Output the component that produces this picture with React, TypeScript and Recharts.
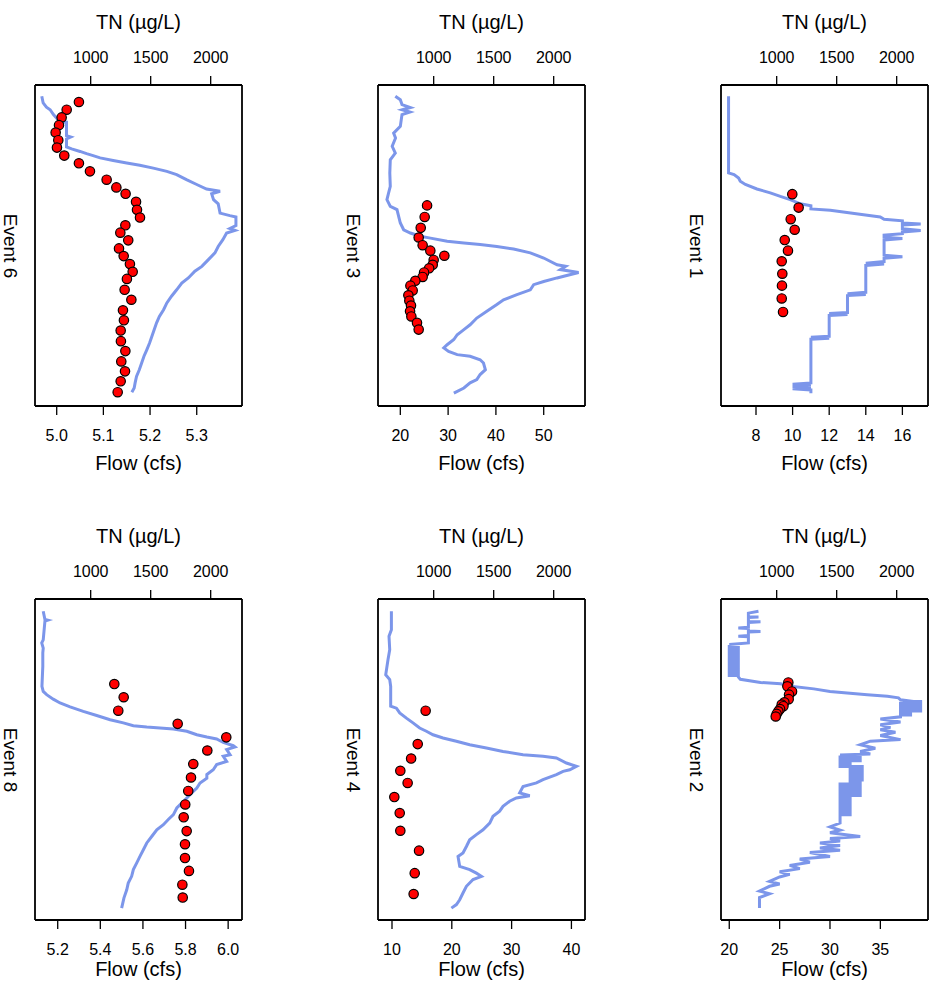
import { ScatterChart, Scatter, XAxis, YAxis } from 'recharts';

const FONT = '"Liberation Sans", Arial, Helvetica, sans-serif';
const LINE_COLOR = '#7C96EA';

// time axis is a relative position through each event (0 = start, 100 = end)
const TN_TICKS = [1000, 1500, 2000];
const TN_DOMAIN: [number, number] = [536, 2261];

// [flow cfs, time]
const event6Flow: [number, number][] = [
  [4.968, 3.5], [4.971, 5.6], [4.978, 6.9], [4.986, 7.7], [4.993, 9.2], [5.003, 10.8], [5.014, 11.6],
  [5.021, 11.6], [5.021, 15.8], [5.03, 16.2], [5.021, 16.8], [5.021, 19.3], [5.032, 19.9], [5.05, 20.7],
  [5.064, 21.4], [5.078, 22.0], [5.093, 22.7], [5.121, 23.5], [5.15, 24.3], [5.178, 25.0], [5.207, 25.9],
  [5.236, 26.9], [5.257, 27.9], [5.278, 29.5], [5.3, 31.0], [5.321, 32.4], [5.35, 33.1], [5.332, 33.9],
  [5.336, 35.7], [5.346, 37.0], [5.35, 39.9], [5.371, 40.7], [5.384, 41.1], [5.384, 43.8], [5.371, 44.7],
  [5.382, 45.3], [5.364, 46.1], [5.356, 48.2], [5.346, 50.3], [5.339, 52.3], [5.325, 54.4], [5.311, 56.5],
  [5.296, 58.0], [5.282, 60.1], [5.268, 61.7], [5.257, 63.8], [5.246, 65.8], [5.236, 67.9], [5.229, 70.0],
  [5.22, 72.1], [5.214, 74.1], [5.209, 76.2], [5.204, 78.3], [5.199, 80.4], [5.193, 82.5], [5.187, 84.5],
  [5.182, 86.6], [5.177, 88.7], [5.171, 90.8], [5.168, 92.8], [5.166, 94.4], [5.161, 95.7],
];
// [TN ug/L, time]
const event6TN: [number, number][] = [
  [902, 5.3], [800, 7.7], [758, 10.1], [736, 12.5], [708, 14.8], [730, 17.2], [719, 19.5], [780, 22.0],
  [902, 24.4], [994, 26.9], [1133, 29.5], [1214, 31.9], [1291, 33.9], [1378, 36.4], [1386, 38.9],
  [1411, 41.3], [1289, 43.7], [1247, 46.0], [1313, 48.4], [1236, 50.9], [1275, 53.3], [1327, 55.8],
  [1350, 58.2], [1302, 60.4], [1283, 63.8], [1339, 66.9], [1269, 70.2], [1277, 73.3], [1250, 76.5],
  [1252, 79.8], [1289, 82.9], [1255, 86.1], [1286, 89.2], [1250, 92.3], [1225, 95.7],
];

const event3Flow: [number, number][] = [
  [18.95, 3.5], [20.0, 4.6], [20.35, 6.1], [22.1, 7.0], [20.4, 7.7], [22.0, 8.4], [20.35, 9.2],
  [20.0, 12.9], [18.6, 15.0], [19.0, 16.5], [18.3, 19.1], [18.95, 21.2], [17.9, 23.3], [17.8, 27.4],
  [17.9, 31.6], [17.55, 33.6], [17.2, 35.7], [17.9, 37.8], [19.3, 38.8], [19.65, 40.9], [20.0, 43.0],
  [20.7, 45.1], [22.1, 46.1], [24.2, 47.1], [26.3, 47.7], [29.8, 48.7], [33.3, 49.2], [36.7, 49.7],
  [40.2, 50.3], [43.7, 51.1], [47.2, 52.3], [50.0, 53.9], [52.8, 56.0], [54.6, 56.5], [53.5, 57.5],
  [57.3, 58.4], [54.2, 59.6], [52.8, 60.1], [50.0, 61.2], [47.9, 62.2], [47.2, 63.8], [44.4, 65.3],
  [41.6, 66.9], [40.2, 68.4], [38.1, 70.5], [36.0, 72.6], [34.6, 74.7], [33.3, 76.2], [31.9, 77.8],
  [31.2, 79.3], [29.8, 80.9], [29.1, 81.9], [30.1, 83.0], [31.9, 84.0], [34.6, 84.5], [36.7, 85.6],
  [37.4, 86.6], [37.8, 88.7], [36.7, 90.2], [36.0, 91.8], [34.6, 92.8], [33.3, 94.4], [31.2, 96.0],
];
const event3TN: [number, number][] = [
  [945, 37.5], [925, 41.1], [892, 44.5], [875, 47.5], [908, 49.9], [972, 51.6], [1089, 53.2], [1000, 54.5],
  [992, 56.0], [962, 57.1], [920, 58.4], [908, 59.8], [847, 61.0], [806, 62.5], [825, 64.0], [789, 65.5],
  [797, 67.2], [811, 68.7], [803, 70.5], [814, 72.1], [861, 74.1], [875, 76.2],
];

const event1Flow: [number, number][] = [
  [6.5, 3.5], [6.5, 27.4], [6.8, 27.9], [7.05, 29.0], [7.14, 30.0], [7.42, 31.0], [8.05, 32.4],
  [8.78, 33.6], [9.33, 34.7], [9.87, 35.7], [10.42, 37.0], [11.0, 37.6], [11.0, 38.6], [12.06, 39.0],
  [12.97, 39.7], [13.88, 40.4], [14.79, 41.1], [15.0, 41.8], [16.0, 42.3], [16.0, 43.0], [17.0, 43.3],
  [16.0, 43.6], [16.0, 44.8], [17.0, 45.3], [16.0, 45.8], [16.0, 46.3], [15.0, 46.8], [15.0, 47.4],
  [16.0, 47.8], [15.0, 48.3], [15.0, 53.0], [16.0, 53.5], [15.0, 54.0], [15.0, 55.0], [14.0, 55.5],
  [15.0, 55.8], [14.0, 56.2], [14.0, 64.6], [13.0, 65.0], [14.0, 65.3], [13.0, 65.6], [13.0, 70.9],
  [12.0, 71.2], [13.0, 71.5], [12.0, 71.8], [12.0, 78.3], [11.0, 78.6], [12.0, 78.9], [11.0, 79.2],
  [11.0, 92.8], [10.0, 93.2], [11.0, 93.5], [10.0, 93.9], [11.0, 94.3], [10.0, 94.6], [11.0, 95.0],
  [11.0, 96.0],
];
const event1TN: [number, number][] = [
  [1130, 34.0], [1183, 38.2], [1117, 41.8], [1150, 45.1], [1067, 48.3], [1094, 51.6], [1042, 54.9],
  [1047, 58.8], [1044, 62.5], [1042, 66.5], [1053, 70.7],
];

const event8Flow: [number, number][] = [
  [5.132, 3.8], [5.14, 6.4], [5.153, 6.6], [5.14, 6.9], [5.132, 12.7], [5.125, 13.7], [5.132, 15.3],
  [5.13, 16.8], [5.13, 21.0], [5.126, 27.2], [5.132, 28.8], [5.148, 29.8], [5.179, 31.2], [5.211, 32.4],
  [5.258, 33.6], [5.32, 35.0], [5.383, 36.3], [5.446, 37.6], [5.508, 38.6], [5.555, 39.5], [5.618, 39.9],
  [5.68, 40.2], [5.743, 40.5], [5.806, 41.2], [5.853, 42.3], [5.9, 43.0], [5.946, 43.6], [5.977, 44.7],
  [6.024, 45.7], [6.032, 46.1], [5.993, 46.9], [6.009, 48.5], [5.977, 49.0], [5.993, 50.6], [5.946, 51.6],
  [5.93, 53.2], [5.9, 54.7], [5.9, 55.8], [5.868, 57.3], [5.853, 58.9], [5.829, 60.4], [5.806, 62.0],
  [5.782, 63.6], [5.759, 65.1], [5.743, 67.2], [5.719, 68.7], [5.696, 70.3], [5.665, 71.9], [5.642, 73.9],
  [5.618, 76.0], [5.602, 78.1], [5.586, 80.2], [5.571, 82.2], [5.555, 84.3], [5.547, 86.4], [5.531, 88.5],
  [5.524, 90.6], [5.511, 93.1], [5.5, 96.3],
];
const event8TN: [number, number][] = [
  [1197, 26.5], [1275, 30.6], [1230, 34.8], [1725, 38.9], [2130, 43.1], [1972, 47.2], [1855, 51.4],
  [1836, 55.6], [1813, 59.8], [1788, 64.0], [1775, 68.0], [1800, 72.3], [1786, 76.4], [1786, 80.7],
  [1819, 84.7], [1764, 89.0], [1767, 93.0],
];

const event4Flow: [number, number][] = [
  [9.9, 3.8], [9.9, 9.6], [9.5, 11.6], [9.62, 15.8], [9.33, 18.9], [8.95, 23.6], [9.62, 25.1], [9.78, 27.2],
  [9.78, 33.4], [10.74, 34.0], [11.29, 35.5], [12.41, 37.1], [13.51, 38.6], [14.63, 40.2], [15.75, 41.2],
  [16.86, 42.3], [18.53, 43.3], [20.77, 44.3], [22.99, 45.4], [25.79, 46.4], [28.56, 47.5], [31.91, 48.5],
  [35.25, 49.0], [37.49, 49.5], [39.16, 51.1], [40.84, 52.1], [39.72, 53.2], [38.6, 53.7], [37.49, 54.7],
  [35.25, 56.3], [34.15, 57.3], [31.91, 58.4], [31.35, 60.4], [33.03, 61.3], [30.79, 62.0], [29.67, 63.0],
  [28.56, 64.6], [28.0, 66.1], [26.89, 67.7], [26.34, 69.8], [25.22, 71.9], [24.11, 73.4], [22.99, 75.0],
  [22.44, 77.1], [21.87, 79.1], [21.04, 80.2], [21.32, 83.3], [22.99, 84.3], [24.11, 85.4], [24.95, 86.4],
  [23.55, 87.4], [22.44, 89.5], [21.87, 91.6], [21.32, 93.7], [20.77, 95.2], [19.93, 96.3],
];
const event4TN: [number, number][] = [
  [933, 34.8], [867, 45.2], [812, 49.7], [722, 53.5], [783, 57.3], [672, 61.7], [717, 66.7], [722, 72.2],
  [878, 78.4], [842, 85.4], [833, 91.9],
];

// gauge flips between neighbouring readings, so the record holds many horizontal rungs
const event2Flow: [number, number][] = [
  [22.9, 3.8], [21.9, 4.4], [21.9, 5.5], [22.9, 5.6], [21.9, 5.8], [21.9, 7.0], [23.1, 7.1], [21.9, 7.3],
  [21.9, 8.8], [20.9, 9.0], [21.9, 9.2], [21.9, 10.0], [23.1, 10.1], [21.9, 10.3], [21.9, 11.4],
  [20.9, 11.6], [21.9, 11.8], [21.9, 13.7],
  [20.0, 14.2], [20.9, 14.2], [20.9, 14.8], [20.0, 14.8], [20.0, 15.4], [20.9, 15.4], [20.9, 16.0],
  [20.0, 16.0], [20.0, 16.6], [20.9, 16.6], [20.9, 17.2], [20.0, 17.2], [20.0, 17.8], [20.9, 17.8],
  [20.9, 18.4], [20.0, 18.4], [20.0, 19.0], [20.9, 19.0], [20.9, 19.6], [20.0, 19.6], [20.0, 20.2],
  [20.9, 20.2], [20.9, 20.8], [20.0, 20.8], [20.0, 21.4], [20.9, 21.4], [20.9, 22.0], [20.0, 22.0],
  [20.0, 22.6], [20.9, 22.6], [20.9, 23.2], [20.0, 23.2], [20.0, 23.8], [20.9, 23.8], [20.9, 24.3],
  [21.1, 25.0], [23.1, 26.0], [25.1, 26.4], [26.1, 27.2], [28.4, 28.0], [30.0, 28.8], [31.7, 29.3],
  [33.7, 29.8], [35.7, 30.3], [36.8, 30.8], [37.0, 31.4], [38.3, 31.9],
  [39.0, 31.9], [39.0, 32.5], [37.0, 32.5], [37.0, 33.1], [39.0, 33.1], [39.0, 33.7], [37.0, 33.7],
  [37.0, 34.3], [39.0, 34.3], [39.0, 34.9], [37.0, 34.9], [37.0, 35.5], [38.0, 35.5], [38.0, 36.1],
  [37.0, 36.1], [37.0, 36.7], [35.0, 37.4], [37.0, 38.3], [35.0, 39.2], [36.0, 40.0], [35.0, 40.7],
  [36.5, 41.5], [35.0, 42.5], [37.0, 43.8], [34.0, 44.3], [33.0, 45.4], [34.5, 46.5], [33.0, 47.5],
  [34.0, 48.3],
  [31.0, 48.6], [33.0, 48.6], [33.0, 49.2], [31.0, 49.2], [31.0, 49.8], [33.0, 49.8], [33.0, 50.4],
  [31.0, 50.4], [31.0, 51.0], [32.0, 51.0], [32.0, 51.6], [31.0, 51.6], [31.0, 52.2], [33.2, 52.2],
  [33.2, 52.8], [32.0, 52.8], [32.0, 53.4], [33.2, 53.4], [33.2, 54.0], [32.0, 54.0], [32.0, 54.6],
  [33.2, 54.6], [33.2, 55.2], [32.0, 55.2], [32.0, 55.8], [33.2, 55.8], [33.2, 56.4], [32.0, 56.4],
  [32.0, 57.0], [33.0, 57.0], [33.0, 57.6], [31.0, 57.6], [31.0, 58.2], [33.0, 58.2], [33.0, 58.8],
  [31.0, 58.8], [31.0, 59.4], [33.0, 59.4], [33.0, 60.0], [31.0, 60.0], [31.0, 60.6], [33.0, 60.6],
  [33.0, 61.2], [31.0, 61.2], [31.0, 61.8], [32.0, 61.8], [32.0, 62.4], [31.0, 62.4], [31.0, 63.0],
  [32.0, 63.0], [32.0, 63.6], [31.0, 63.6], [31.0, 64.2], [32.0, 64.2], [32.0, 64.8], [31.0, 64.8],
  [31.0, 65.4], [32.0, 65.4], [32.0, 66.0], [31.0, 66.0], [31.0, 66.6], [32.0, 66.6], [32.0, 67.2],
  [31.0, 67.2], [31.0, 69.8],
  [30.0, 71.0], [31.0, 72.0], [30.0, 72.8], [33.0, 74.0], [30.0, 74.6], [31.0, 75.4], [29.0, 76.0],
  [31.0, 76.8], [29.0, 77.6], [31.0, 78.3], [28.0, 79.0], [30.0, 80.2], [27.0, 81.0], [28.0, 82.0],
  [26.0, 83.0], [27.0, 84.0], [25.0, 85.0], [26.0, 85.8], [25.0, 86.6], [24.0, 88.0], [25.0, 88.8],
  [24.0, 89.5], [23.0, 91.0], [24.0, 91.8], [23.0, 93.0], [23.0, 96.3],
];
const event2TN: [number, number][] = [
  [1097, 26.0], [1089, 27.2], [1128, 28.8], [1103, 29.8], [1100, 31.2], [1064, 32.2], [1042, 32.9],
  [1056, 33.4], [1028, 34.3], [1014, 35.0], [1000, 35.8], [992, 36.6],
];

interface PanelSpec {
  name: string;
  flow: [number, number][];
  tn: [number, number][];
  flowDomain: [number, number];
  flowTicks: number[];
  digits: number;
  left: number;
  top: number;
  flowTitleY: number;
}

const panels: PanelSpec[] = [
  { name: 'Event 6', flow: event6Flow, tn: event6TN, flowDomain: [4.9535, 5.397], flowTicks: [5.0, 5.1, 5.2, 5.3], digits: 1, left: 0, top: 0, flowTitleY: 463 },
  { name: 'Event 3', flow: event3Flow, tn: event3TN, flowDomain: [15.33, 58.64], flowTicks: [20, 30, 40, 50], digits: 0, left: 343, top: 0, flowTitleY: 463 },
  { name: 'Event 1', flow: event1Flow, tn: event1TN, flowDomain: [6.087, 17.4], flowTicks: [8, 10, 12, 14, 16], digits: 0, left: 686, top: 0, flowTitleY: 463 },
  { name: 'Event 8', flow: event8Flow, tn: event8TN, flowDomain: [5.0934, 6.065], flowTicks: [5.2, 5.4, 5.6, 5.8, 6.0], digits: 1, left: 0, top: 514, flowTitleY: 455 },
  { name: 'Event 4', flow: event4Flow, tn: event4TN, flowDomain: [7.66, 42.27], flowTicks: [10, 20, 30, 40], digits: 0, left: 343, top: 514, flowTitleY: 455 },
  { name: 'Event 2', flow: event2Flow, tn: event2TN, flowDomain: [19.18, 39.73], flowTicks: [20, 25, 30, 35], digits: 0, left: 686, top: 514, flowTitleY: 455 },
];

const CHART_W = 250;
const CHART_H = 476;
const BOX_L = 35;
const BOX_W = 207;
const BOX_T = 85;
const BOX_H = 321;

const axisLine = { stroke: '#000', strokeWidth: 1.8 };
const tickLine = { stroke: '#000', strokeWidth: 1.3 };
const tickText = { fontSize: 16, fill: '#000', fontFamily: FONT };

const RedDot = (props: any) => (
  <circle cx={props.cx} cy={props.cy} r={4.7} fill="#FF0000" stroke="#000" strokeWidth={1.2} />
);

const Panel = ({ p }: { p: PanelSpec }) => {
  const flowData = p.flow.map(([flow, t]) => ({ flow, t }));
  const tnData = p.tn.map(([tn, t]) => ({ tn, t }));
  const fmt = (v: number) => v.toFixed(p.digits);
  return (
    <div style={{ position: 'absolute', left: p.left, top: p.top, width: CHART_W, height: CHART_H }}>
      <ScatterChart width={CHART_W} height={CHART_H} margin={{ top: 0, right: 0, bottom: 0, left: 0 }}>
        <XAxis
          xAxisId="tn"
          orientation="top"
          type="number"
          dataKey="tn"
          domain={TN_DOMAIN}
          ticks={TN_TICKS}
          allowDataOverflow
          interval={0}
          height={BOX_T}
          tickSize={9}
          tickMargin={13}
          axisLine={axisLine}
          tickLine={tickLine}
          tick={tickText}
        />
        <XAxis
          xAxisId="flow"
          orientation="bottom"
          type="number"
          dataKey="flow"
          domain={p.flowDomain}
          ticks={p.flowTicks}
          tickFormatter={fmt}
          allowDataOverflow
          interval={0}
          height={CHART_H - BOX_T - BOX_H}
          tickSize={9}
          tickMargin={15}
          axisLine={axisLine}
          tickLine={tickLine}
          tick={tickText}
        />
        <YAxis
          yAxisId="t"
          type="number"
          dataKey="t"
          domain={[0, 100]}
          reversed
          allowDataOverflow
          width={BOX_L}
          tick={false}
          tickLine={false}
          axisLine={axisLine}
        />
        <YAxis
          yAxisId="r"
          orientation="right"
          type="number"
          dataKey="t"
          domain={[0, 100]}
          reversed
          allowDataOverflow
          width={CHART_W - BOX_L - BOX_W}
          tick={false}
          tickLine={false}
          axisLine={axisLine}
        />
        <Scatter
          data={flowData}
          xAxisId="flow"
          yAxisId="t"
          fill={LINE_COLOR}
          line={{ stroke: LINE_COLOR, strokeWidth: 3 }}
          lineType="joint"
          shape={() => <g />}
          isAnimationActive={false}
        />
        <Scatter
          data={tnData}
          xAxisId="tn"
          yAxisId="t"
          fill="#FF0000"
          shape={RedDot}
          isAnimationActive={false}
        />
      </ScatterChart>
      <div
        style={{
          position: 'absolute', left: BOX_L, width: BOX_W, top: 10, lineHeight: '24px',
          textAlign: 'center', fontFamily: FONT, fontSize: 20, color: '#000', whiteSpace: 'nowrap',
        }}
      >
        TN (µg/L)
      </div>
      <div
        style={{
          position: 'absolute', left: BOX_L, width: BOX_W, top: p.flowTitleY - 12, lineHeight: '24px',
          textAlign: 'center', fontFamily: FONT, fontSize: 20, color: '#000', whiteSpace: 'nowrap',
        }}
      >
        Flow (cfs)
      </div>
      <div
        style={{
          position: 'absolute', left: BOX_L - 25 - 60, top: BOX_T + BOX_H / 2 - 12, width: 120,
          lineHeight: '24px', textAlign: 'center', fontFamily: FONT, fontSize: 19, color: '#000',
          transform: 'rotate(90deg)', whiteSpace: 'nowrap',
        }}
      >
        {p.name}
      </div>
    </div>
  );
};

export default function App() {
  return (
    <div style={{ position: 'absolute', left: 0, top: 0, width: 936, height: 993, background: '#fff' }}>
      {panels.map((p) => (
        <Panel key={p.name} p={p} />
      ))}
    </div>
  );
}
